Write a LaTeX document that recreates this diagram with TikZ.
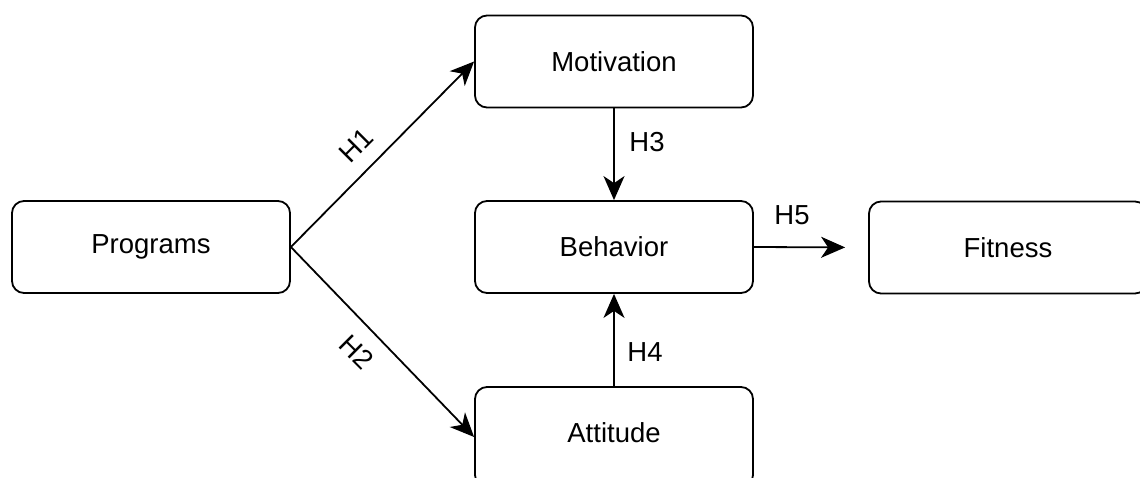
\documentclass[tikz,border=0pt]{standalone}
\usepackage{fontspec}
\setmainfont{Liberation Sans}
\usetikzlibrary{arrows.meta}
\begin{document}
\begin{tikzpicture}[x=1pt,y=-1pt,
  box/.style={draw, line width=1.8pt, rounded corners=12pt, minimum width=278pt, minimum height=92pt, font=\fontsize{27.5}{31}\selectfont, inner sep=0pt},
  conn/.style={line width=1.8pt, -{Stealth[length=24pt,width=21pt,inset=7pt]}},
  lbl/.style={font=\fontsize{27.5}{31}\selectfont, inner sep=0pt}]
\useasboundingbox (0,0) rectangle (1140,477);
\clip (0,0) rectangle (1140,477);
\node[box] (prog) at (151,247) {Programs};
\node[box] (mot) at (614,61.5) {Motivation};
\node[box] (beh) at (614,247) {Behavior};
\node[box] (fit) at (1008,247.5) {Fitness};
\node[box, minimum height=100pt] (att) at (614,437) {};
\node[lbl] (attlbl) at (614,433) {Attitude};
\draw[conn] (prog.east) -- (mot.west);
\draw[conn] (prog.east) -- (att.west);
\draw[conn] (mot.south) -- (beh.north);
\draw[conn] (att.north) -- (beh.south);
\draw[conn, shorten >=23pt] (beh.east) -- (fit.west);
\node[lbl, rotate=45] (h1) at (356,145) {H1};
\node[lbl, rotate=-45] (h2) at (357,352) {H2};
\node[lbl] (h3) at (647,142) {H3};
\node[lbl] (h4) at (645,352) {H4};
\node[lbl] (h5) at (792,215) {H5};
\end{tikzpicture}
\end{document}
